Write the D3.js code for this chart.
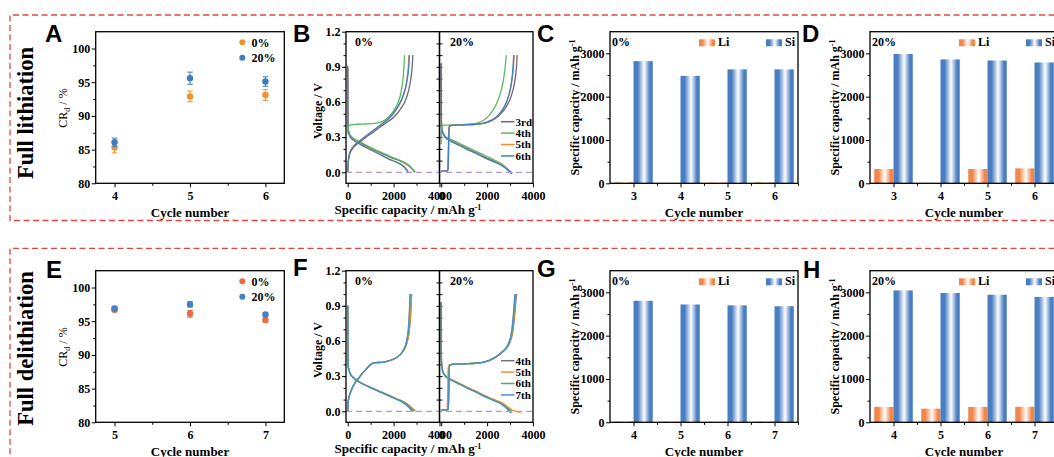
<!DOCTYPE html>
<html>
<head>
<meta charset="utf-8">
<script src="https://cdn.jsdelivr.net/npm/d3@7"></script>
<style>
body { margin: 0; background: #fff; }
svg { display: block; }
</style>
</head>
<body>
<svg id="fig" width="1054" height="457"></svg>
<script>
// ---- CR_d scatter (A, E) ----
const crCyclesLith = [4, 5, 6];
const crLith0 = [85.3, 92.9, 93.1];
const crLith0Err = [0.8, 0.8, 0.8];
const crLith20 = [86.1, 95.6, 95.1];
const crLith20Err = [0.6, 0.9, 0.7];
const crCyclesDelith = [5, 6, 7];
const crDelith0 = [96.7, 96.1, 95.2];
const crDelith0Err = [0.3, 0.5, 0.3];
const crDelith20 = [96.9, 97.5, 96.0];
const crDelith20Err = [0.3, 0.4, 0.3];
const crTicksY = [80, 85, 90, 95, 100];

// ---- Li / Si capacity bars (C, D, G, H) ----
const barCyclesLith = [3, 4, 5, 6];
const liLith0 = [20, 0, 15, 20];
const siLith0 = [2820, 2480, 2630, 2630];
const liLith20 = [330, 0, 330, 345];
const siLith20 = [2985, 2860, 2835, 2790];
const barCyclesDelith = [4, 5, 6, 7];
const liDelith0 = [15, 12, 12, 15];
const siDelith0 = [2805, 2720, 2700, 2680];
const liDelith20 = [355, 315, 355, 360];
const siDelith20 = [3045, 2985, 2945, 2895];
const capTicksY = [0, 1000, 2000, 3000];

// ---- voltage profiles (B, F): [capacity mAh/g, V] ----
const lithNames = ["3rd", "4th", "5th", "6th"];
const delithNames = ["4th", "5th", "6th", "7th"];
const vTicksY = [0, 0.3, 0.6, 0.9, 1.2];
const capTicksX = [0, 2000, 4000];

const lith0Dis = [
  [[0,0.89],[3,0.7],[7,0.5],[15,0.4],[50,0.34],[150,0.305],[350,0.275],[700,0.235],[1100,0.195],[1500,0.16],[1900,0.125],[2300,0.095],[2600,0.065],[2800,0.03],[2920,0]],
  [[0,0.42],[10,0.36],[50,0.33],[150,0.305],[350,0.278],[700,0.242],[1100,0.202],[1500,0.167],[1900,0.132],[2300,0.1],[2600,0.07],[2800,0.035],[2950,0]],
  [[0,0.9],[3,0.7],[7,0.5],[15,0.4],[40,0.34],[120,0.3],[300,0.27],[600,0.235],[1000,0.195],[1400,0.155],[1800,0.115],[2150,0.085],[2400,0.06],[2550,0.03],[2650,0]],
  [[0,0.91],[3,0.7],[7,0.5],[15,0.4],[40,0.34],[120,0.3],[300,0.268],[600,0.232],[1000,0.192],[1400,0.152],[1800,0.112],[2150,0.082],[2380,0.058],[2530,0.028],[2630,0]]
];
const lith0Chg = [
  [[0,0],[20,0.08],[80,0.15],[250,0.21],[500,0.255],[800,0.3],[1100,0.34],[1400,0.385],[1700,0.425],[2000,0.47],[2300,0.54],[2550,0.63],[2720,0.76],[2800,0.88],[2840,1.0]],
  [[0,0.33],[15,0.36],[40,0.39],[100,0.405],[400,0.41],[800,0.412],[1200,0.418],[1500,0.432],[1750,0.465],[2000,0.525],[2200,0.6],[2340,0.7],[2420,0.82],[2455,0.92],[2475,1.0]],
  [[0,0],[20,0.09],[80,0.16],[250,0.22],[500,0.265],[800,0.31],[1100,0.355],[1400,0.4],[1700,0.44],[1950,0.49],[2200,0.56],[2420,0.65],[2580,0.78],[2640,0.9],[2670,1.0]],
  [[0,0],[20,0.09],[80,0.16],[250,0.22],[500,0.265],[800,0.31],[1100,0.355],[1400,0.4],[1700,0.445],[1950,0.495],[2200,0.565],[2420,0.66],[2590,0.79],[2660,0.9],[2690,1.0]]
];
const lith20Dis = [
  [[0,0.93],[3,0.7],[6,0.5],[12,0.42],[40,0.36],[150,0.31],[350,0.28],[700,0.245],[1100,0.205],[1500,0.17],[1900,0.13],[2300,0.095],[2600,0.07],[2850,0.035],[3000,0.01],[3060,0]],
  [[0,0.42],[10,0.38],[50,0.345],[150,0.312],[350,0.287],[700,0.256],[1100,0.217],[1500,0.182],[1900,0.142],[2300,0.106],[2600,0.076],[2800,0.042],[2950,0.01],[3020,0]],
  [[0,0.92],[3,0.7],[6,0.5],[12,0.42],[40,0.355],[150,0.305],[350,0.275],[700,0.24],[1100,0.2],[1500,0.165],[1900,0.125],[2300,0.09],[2600,0.065],[2850,0.03],[3000,0.005],[3080,-0.005]],
  [[0,0.93],[3,0.7],[6,0.5],[12,0.42],[40,0.355],[150,0.305],[350,0.273],[700,0.238],[1100,0.198],[1500,0.163],[1900,0.123],[2300,0.088],[2600,0.063],[2850,0.028],[3000,0],[3050,-0.01],[3100,0]]
];
const lith20Chg = [
  [[0,0.01],[150,0.012],[290,0.015],[305,0.06],[320,0.2],[335,0.35],[360,0.395],[600,0.402],[1000,0.405],[1500,0.41],[1900,0.42],[2200,0.44],[2500,0.48],[2800,0.55],[3050,0.65],[3200,0.77],[3280,0.9],[3310,1.0]],
  [[0,0.24],[4,0.32],[8,0.38],[30,0.398],[200,0.402],[700,0.405],[1200,0.41],[1600,0.422],[1900,0.45],[2150,0.5],[2400,0.58],[2600,0.69],[2730,0.81],[2800,0.92],[2840,1.0]],
  [[0,0.01],[150,0.012],[280,0.015],[295,0.06],[310,0.2],[325,0.35],[350,0.395],[600,0.402],[1000,0.405],[1500,0.41],[1900,0.422],[2200,0.445],[2500,0.49],[2750,0.56],[2950,0.66],[3080,0.78],[3150,0.9],[3180,1.0]],
  [[0,0.01],[150,0.012],[290,0.015],[305,0.06],[320,0.2],[335,0.35],[360,0.395],[600,0.402],[1000,0.405],[1500,0.41],[1900,0.422],[2200,0.445],[2500,0.49],[2750,0.56],[2950,0.66],[3070,0.78],[3130,0.9],[3160,1.0]]
];
const delith0Dis = [
  [[0,0.9],[3,0.7],[6,0.5],[12,0.42],[30,0.37],[100,0.325],[250,0.285],[500,0.25],[900,0.21],[1300,0.175],[1700,0.14],[2100,0.105],[2400,0.078],[2600,0.048],[2750,0.018],[2830,0]],
  [[0,0.9],[3,0.7],[6,0.5],[12,0.42],[35,0.37],[110,0.325],[270,0.285],[530,0.25],[940,0.21],[1350,0.175],[1760,0.14],[2170,0.105],[2480,0.078],[2700,0.048],[2870,0.018],[2960,0]],
  [[0,0.9],[3,0.7],[6,0.5],[12,0.42],[32,0.37],[105,0.325],[260,0.285],[515,0.25],[920,0.21],[1325,0.175],[1730,0.14],[2130,0.105],[2440,0.078],[2650,0.048],[2810,0.018],[2900,0]],
  [[0,0.9],[3,0.7],[6,0.5],[12,0.42],[30,0.37],[100,0.325],[250,0.285],[500,0.25],[900,0.21],[1300,0.175],[1700,0.14],[2090,0.105],[2390,0.078],[2590,0.048],[2730,0.018],[2810,0]]
];
const delith0Chg = [
  [[0,0],[25,0.09],[100,0.15],[250,0.22],[500,0.29],[800,0.36],[1000,0.4],[1200,0.415],[1500,0.418],[1750,0.428],[2050,0.45],[2400,0.51],[2570,0.58],[2690,0.7],[2750,0.85],[2775,0.95],[2790,1.0]],
  [[0,0],[25,0.09],[100,0.15],[260,0.22],[515,0.29],[815,0.36],[1015,0.4],[1215,0.415],[1515,0.418],[1765,0.428],[2065,0.45],[2410,0.51],[2580,0.58],[2690,0.7],[2745,0.85],[2770,0.95],[2780,1.0]],
  [[0,0],[25,0.09],[100,0.15],[250,0.22],[500,0.29],[800,0.36],[1000,0.4],[1200,0.415],[1500,0.418],[1750,0.428],[2050,0.45],[2400,0.51],[2550,0.58],[2650,0.7],[2695,0.85],[2715,0.95],[2725,1.0]],
  [[0,0],[25,0.09],[100,0.15],[250,0.22],[500,0.29],[800,0.36],[1000,0.4],[1200,0.415],[1500,0.418],[1750,0.428],[2040,0.45],[2390,0.51],[2540,0.58],[2640,0.7],[2688,0.85],[2708,0.95],[2718,1.0]]
];
const delith20Dis = [
  [[0,0.93],[3,0.7],[6,0.5],[12,0.42],[40,0.36],[150,0.31],[350,0.28],[700,0.245],[1100,0.205],[1500,0.17],[1900,0.13],[2300,0.095],[2600,0.07],[2850,0.035],[3000,0.01],[3080,0]],
  [[0,0.93],[3,0.7],[6,0.5],[12,0.42],[45,0.36],[160,0.31],[370,0.28],[730,0.245],[1140,0.205],[1550,0.17],[1960,0.13],[2370,0.095],[2680,0.07],[2930,0.035],[3100,0.01],[3250,0],[3420,-0.006],[3540,0]],
  [[0,0.93],[3,0.7],[6,0.5],[12,0.42],[40,0.36],[150,0.31],[350,0.278],[700,0.243],[1100,0.203],[1500,0.168],[1900,0.128],[2300,0.093],[2600,0.068],[2830,0.033],[2980,0.008],[3050,0]],
  [[0,0.93],[3,0.7],[6,0.5],[12,0.42],[40,0.355],[150,0.305],[350,0.275],[700,0.24],[1100,0.2],[1500,0.165],[1900,0.125],[2300,0.09],[2600,0.065],[2820,0.03],[2960,0.002],[3020,-0.01],[3080,0]]
];
const delith20Chg = [
  [[0,0.01],[150,0.012],[300,0.015],[315,0.06],[330,0.2],[345,0.35],[370,0.395],[600,0.402],[1000,0.405],[1500,0.41],[1800,0.418],[2100,0.435],[2350,0.46],[2700,0.51],[2950,0.57],[3120,0.68],[3210,0.84],[3260,0.95],[3290,1.0]],
  [[0,0.01],[150,0.012],[255,0.015],[270,0.06],[285,0.2],[300,0.35],[330,0.395],[600,0.402],[1000,0.405],[1500,0.41],[1800,0.418],[2100,0.435],[2350,0.46],[2690,0.51],[2930,0.57],[3100,0.68],[3190,0.84],[3235,0.95],[3260,1.0]],
  [[0,0.01],[150,0.012],[300,0.015],[315,0.06],[330,0.2],[345,0.35],[370,0.395],[600,0.402],[1000,0.405],[1500,0.41],[1800,0.418],[2100,0.435],[2350,0.46],[2680,0.51],[2920,0.57],[3080,0.68],[3165,0.84],[3205,0.95],[3225,1.0]],
  [[0,0.01],[150,0.012],[300,0.015],[315,0.06],[330,0.2],[345,0.35],[370,0.395],[600,0.402],[1000,0.405],[1500,0.41],[1800,0.418],[2100,0.435],[2350,0.46],[2670,0.51],[2910,0.57],[3065,0.68],[3150,0.84],[3190,0.95],[3210,1.0]]
];

const lithColors = ["#646889", "#5cb85f", "#f28e2f", "#3f7fc4"];
const delithColors = ["#6b6f8c", "#f28e2f", "#4daf5e", "#4a8fcb"];

// ---- layout ----
const svg = d3.select("#fig");
const SERIF = '"Liberation Serif","Times New Roman",serif';
const SANS = '"Liberation Sans",Arial,sans-serif';
const TOP = 31.7, H = 151.6, ROW = 239;
const fmtInt = d3.format("d");

function styleAxis(g, keepText) {
  g.attr("font-family", SERIF).attr("font-size", 12).attr("font-weight", "bold");
  g.select(".domain").remove();
  g.selectAll(".tick line").attr("stroke", "#000").attr("stroke-width", 1);
  g.selectAll(".tick text").attr("fill", "#000");
  if (!keepText) g.selectAll(".tick text").remove();
}

function frame(x, y, w, h) {
  svg.append("rect").attr("x", x).attr("y", y).attr("width", w).attr("height", h)
    .attr("fill", "none").attr("stroke", "#000").attr("stroke-width", 1.3);
}

function label(x, y, s, o) {
  o = o || {};
  return svg.append("text").attr("x", x).attr("y", y)
    .attr("font-family", o.family || SERIF).attr("font-size", o.size || 12)
    .attr("font-weight", o.weight || "bold").attr("text-anchor", o.anchor || "start")
    .attr("fill", "#000").text(s);
}

function yTitle(x, y, o) {
  o = o || {};
  return svg.append("text").attr("transform", `translate(${x},${y}) rotate(-90)`)
    .attr("font-family", SERIF).attr("font-size", o.size || 12)
    .attr("font-weight", o.weight || "bold").attr("text-anchor", "middle").attr("fill", "#000");
}

function capTitle(t) {
  t.append("tspan").text("Specific capacity / mAh g");
  t.append("tspan").attr("dy", -4.5).attr("font-size", 8).text("-1");
}

// ---- dashed boxes and row titles ----
svg.append("path").attr("d", "M1064,15H10V220.5H1064")
  .attr("fill", "none").attr("stroke", "#e4473f").attr("stroke-width", 1.3).attr("stroke-dasharray", "6,3.5");
svg.append("path").attr("d", "M1064,248.3H10V470")
  .attr("fill", "none").attr("stroke", "#e4473f").attr("stroke-width", 1.3).attr("stroke-dasharray", "6,3.5");
yTitle(33.3, 113, { size: 22.5 }).text("Full lithiation");
yTitle(33.3, 348.5, { size: 22.5 }).text("Full delithiation");

// ---- panel letters ----
[["A", 45, 41.5], ["B", 293, 41.5], ["C", 537, 41.5], ["D", 802, 41.5],
 ["E", 46, 277.5], ["F", 293, 275.5], ["G", 537, 276.5], ["H", 803, 277.5]]
  .forEach(d => label(d[1], d[2], d[0], { family: SANS, size: 24 }));

// ---- scatter panels ----
function crPanel(oy, cycles, s0, e0, s20, e20, c0, c20) {
  const x0 = 95.7, x1 = 284.3, yt = oy + TOP, yb = oy + TOP + H;
  const x = d3.scaleLinear().domain([cycles[0] - 0.25, cycles[2] + 0.25]).range([x0, x1]);
  const y = d3.scaleLinear().domain([80, 102.5]).range([yb, yt]);

  styleAxis(svg.append("g").attr("transform", `translate(${x0},0)`)
    .call(d3.axisLeft(y).tickValues(crTicksY).tickSize(4).tickPadding(1.5).tickSizeOuter(0)), true);
  styleAxis(svg.append("g").attr("transform", `translate(${x0},0)`)
    .call(d3.axisLeft(y).tickValues([82.5, 87.5, 92.5, 97.5]).tickSize(2.5).tickSizeOuter(0)));
  styleAxis(svg.append("g").attr("transform", `translate(0,${yb})`)
    .call(d3.axisBottom(x).tickValues(cycles).tickFormat(fmtInt).tickSize(4).tickPadding(4).tickSizeOuter(0)), true);
  styleAxis(svg.append("g").attr("transform", `translate(0,${yb})`)
    .call(d3.axisBottom(x).tickValues([cycles[0] + 0.5, cycles[1] + 0.5]).tickSize(2.5).tickSizeOuter(0)));
  frame(x0, yt, x1 - x0, H);

  [[s0, e0, c0], [s20, e20, c20]].forEach(([vals, errs, col]) => {
    const g = svg.append("g");
    vals.forEach((v, i) => {
      const cx = x(cycles[i]);
      g.append("line").attr("x1", cx).attr("x2", cx).attr("y1", y(v - errs[i])).attr("y2", y(v + errs[i]))
        .attr("stroke", col).attr("stroke-width", 1);
      [v - errs[i], v + errs[i]].forEach(e => g.append("line").attr("x1", cx - 2.8).attr("x2", cx + 2.8)
        .attr("y1", y(e)).attr("y2", y(e)).attr("stroke", col).attr("stroke-width", 1));
      g.append("circle").attr("cx", cx).attr("cy", y(v)).attr("r", 3.2).attr("fill", col);
    });
  });

  // legend
  svg.append("circle").attr("cx", 242.3).attr("cy", oy + 42.3).attr("r", 3).attr("fill", c0);
  label(251.5, oy + 46.5, "0%");
  svg.append("circle").attr("cx", 242.3).attr("cy", oy + 57.7).attr("r", 3).attr("fill", c20);
  label(251.5, oy + 62, "20%");

  label(190, oy + 217, "Cycle number", { anchor: "middle", size: 13 });
  const t = yTitle(67, oy + 108, { weight: "normal" });
  t.append("tspan").text("CR");
  t.append("tspan").attr("dy", 3).attr("font-size", 8).text("d");
  t.append("tspan").attr("dy", -3).text(" / %");
}

crPanel(0, crCyclesLith, crLith0, crLith0Err, crLith20, crLith20Err, "#f0932e", "#3f7cbf");
crPanel(ROW, crCyclesDelith, crDelith0, crDelith0Err, crDelith20, crDelith20Err, "#ec6b3b", "#4481c3");

// ---- voltage profile panels ----
function vPanel(oy, subs, colors, names) {
  const yt = oy + TOP, yb = oy + TOP + H, w = 93.5;
  const lefts = [346, 439.5];
  const y = d3.scaleLinear().domain([-0.094, 1.2]).range([yb, yt]);
  const line = d3.line().curve(d3.curveMonotoneX);

  styleAxis(svg.append("g").attr("transform", `translate(${lefts[0]},0)`)
    .call(d3.axisLeft(y).tickValues(vTicksY).tickFormat(d3.format(".1f")).tickSize(4).tickPadding(1.5).tickSizeOuter(0)), true);
  styleAxis(svg.append("g").attr("transform", `translate(${lefts[0]},0)`)
    .call(d3.axisLeft(y).tickValues(d3.range(0.1, 1.2, 0.1)).tickSize(2.5).tickSizeOuter(0)));
  [-3, 3].forEach(s => styleAxis(svg.append("g").attr("transform", `translate(${lefts[1]},0)`)
    .call(d3.axisLeft(y).tickValues(d3.range(0.1, 1.2, 0.1)).tickSize(s).tickSizeOuter(0))));

  subs.forEach((s, k) => {
    const x = d3.scaleLinear().domain([-75, 4000]).range([lefts[k], lefts[k] + w]);
    line.x(d => x(d[0])).y(d => y(d[1]));
    styleAxis(svg.append("g").attr("transform", `translate(0,${yb})`)
      .call(d3.axisBottom(x).tickValues(capTicksX).tickFormat(fmtInt).tickSize(4).tickPadding(4).tickSizeOuter(0)), true);
    styleAxis(svg.append("g").attr("transform", `translate(0,${yb})`)
      .call(d3.axisBottom(x).tickValues([1000, 3000]).tickSize(2.5).tickSizeOuter(0)));
    s.dis.forEach((c, i) => svg.append("path").attr("d", line(c)).attr("fill", "none")
      .attr("stroke", colors[i]).attr("stroke-width", 1.3));
    s.chg.forEach((c, i) => svg.append("path").attr("d", line(c)).attr("fill", "none")
      .attr("stroke", colors[i]).attr("stroke-width", 1.3));
    label(lefts[k] + (k ? 10.5 : 9), oy + 45.5, s.tag);
  });
  svg.append("line").attr("x1", lefts[0]).attr("x2", lefts[1] + w).attr("y1", y(0)).attr("y2", y(0))
    .attr("stroke", "#b594e2").attr("stroke-width", 1.3).attr("stroke-dasharray", "6,4");
  frame(lefts[0], yt, w, H);
  frame(lefts[1], yt, w, H);

  names.forEach((n, i) => {
    const ly = oy + 121.7 + i * 11.4;
    svg.append("line").attr("x1", 501).attr("x2", 514.5).attr("y1", ly).attr("y2", ly)
      .attr("stroke", colors[i]).attr("stroke-width", 1.5);
    label(515.5, ly + 3.8, n, { size: 11 });
  });

  capTitle(label(408, oy + 214, "", { anchor: "middle", size: 13 }));
  yTitle(322, oy + 111).text("Voltage / V");
}

vPanel(0, [{ tag: "0%", dis: lith0Dis, chg: lith0Chg }, { tag: "20%", dis: lith20Dis, chg: lith20Chg }], lithColors, lithNames);
vPanel(ROW, [{ tag: "0%", dis: delith0Dis, chg: delith0Chg }, { tag: "20%", dis: delith20Dis, chg: delith20Chg }], delithColors, delithNames);

// ---- bar panels ----
const defs = svg.append("defs");
[["gLi", "#f1874a"], ["gSi", "#4a7ec2"]].forEach(([id, c]) => {
  const g = defs.append("linearGradient").attr("id", id).attr("x1", 0).attr("x2", 1).attr("y1", 0).attr("y2", 0);
  [[0, c], [0.22, c], [0.55, "#ffffff"], [0.85, c], [1, c]].forEach(s =>
    g.append("stop").attr("offset", s[0]).attr("stop-color", s[1]));
});

function barPanel(ox, oy, cycles, li, si, tag) {
  const W = 188, yt = oy + TOP, yb = oy + TOP + H;
  const x = d3.scaleLinear().domain([cycles[0] - 0.5, cycles[3] + 0.5]).range([ox, ox + W]);
  const y = d3.scaleLinear().domain([0, 3500]).range([yb, yt]);
  const bw = 0.41;

  styleAxis(svg.append("g").attr("transform", `translate(${ox},0)`)
    .call(d3.axisLeft(y).tickValues(capTicksY).tickFormat(fmtInt).tickSize(4).tickPadding(1.5).tickSizeOuter(0)), true);
  styleAxis(svg.append("g").attr("transform", `translate(${ox},0)`)
    .call(d3.axisLeft(y).tickValues([500, 1500, 2500]).tickSize(2.5).tickSizeOuter(0)));
  styleAxis(svg.append("g").attr("transform", `translate(0,${yb})`)
    .call(d3.axisBottom(x).tickValues(cycles).tickFormat(fmtInt).tickSize(4).tickPadding(4).tickSizeOuter(0)), true);
  styleAxis(svg.append("g").attr("transform", `translate(0,${yb})`)
    .call(d3.axisBottom(x).tickValues(cycles.map(c => c + 0.5)).tickSize(2.5).tickSizeOuter(0)));

  svg.append("g").selectAll("rect").data(cycles).join("rect")
    .attr("x", d => x(d - bw)).attr("width", x(bw) - x(0))
    .attr("y", (d, i) => y(li[i])).attr("height", (d, i) => yb - y(li[i]))
    .attr("fill", "url(#gLi)");
  svg.append("g").selectAll("rect").data(cycles).join("rect")
    .attr("x", d => x(d)).attr("width", x(bw) - x(0))
    .attr("y", (d, i) => y(si[i])).attr("height", (d, i) => yb - y(si[i]))
    .attr("fill", "url(#gSi)");
  frame(ox, yt, W, H);

  label(ox + 2, oy + 45.5, tag);
  svg.append("rect").attr("x", ox + 89).attr("y", oy + 39.3).attr("width", 16).attr("height", 7).attr("fill", "url(#gLi)");
  label(ox + 108, oy + 46.3, "Li");
  svg.append("rect").attr("x", ox + 156).attr("y", oy + 39.3).attr("width", 16).attr("height", 7).attr("fill", "url(#gSi)");
  label(ox + 175, oy + 46.3, "Si");

  label(ox + 94, oy + 217, "Cycle number", { anchor: "middle", size: 13 });
  capTitle(yTitle(ox - 31, oy + 107.5));
}

barPanel(610, 0, barCyclesLith, liLith0, siLith0, "0%");
barPanel(870, 0, barCyclesLith, liLith20, siLith20, "20%");
barPanel(610, ROW, barCyclesDelith, liDelith0, siDelith0, "0%");
barPanel(870, ROW, barCyclesDelith, liDelith20, siDelith20, "20%");
</script>
</body>
</html>
